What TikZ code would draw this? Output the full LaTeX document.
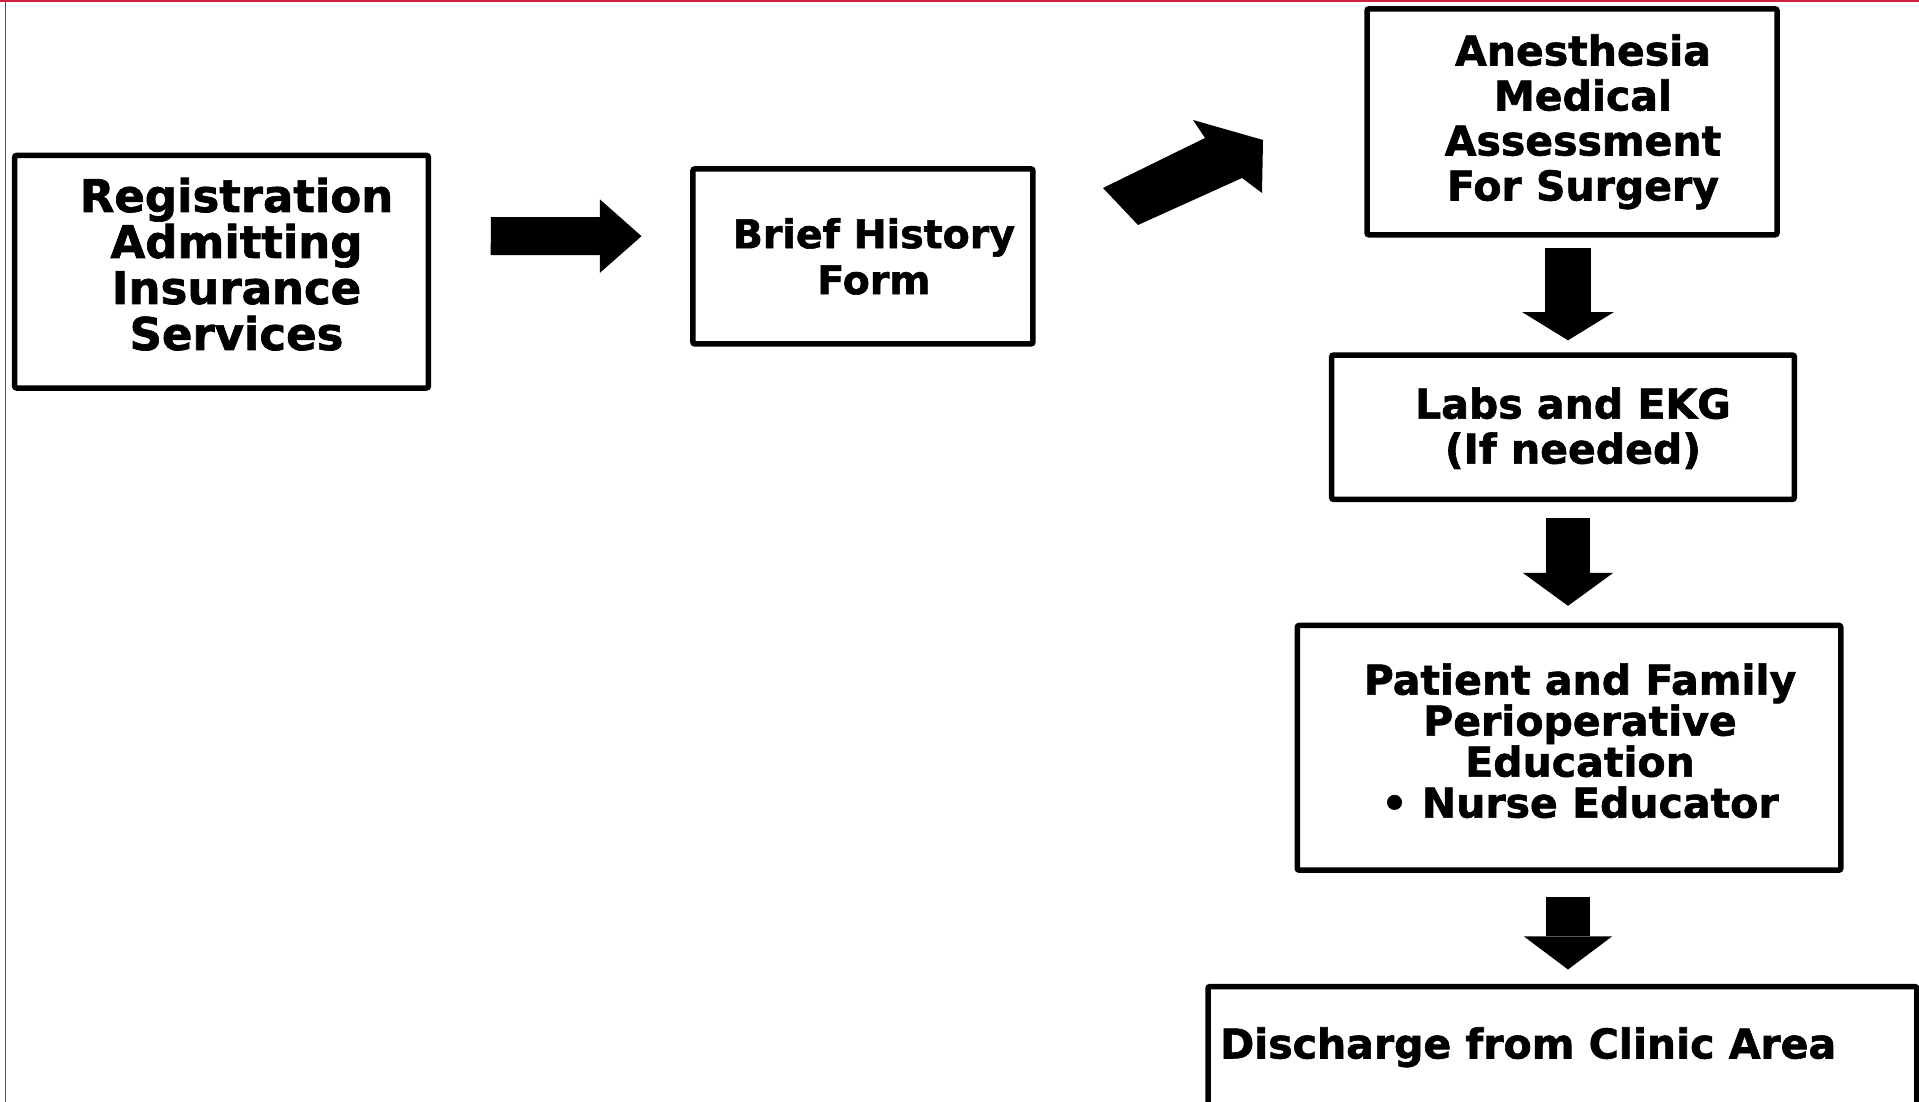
\documentclass[tikz,border=0pt]{standalone}
\usepackage{fontspec}
\usepackage{tikz}
\usetikzlibrary{arrows.meta,calc}
\newfontfamily\flowfont{DejaVu Sans}[BoldFeatures={FakeBold=1.5}]
\definecolor{edgered}{RGB}{204,32,64}

\begin{document}
\begin{tikzpicture}[x=1pt,y=-1pt,
    stage/.style={draw, line width=5.5pt, rounded corners=2pt, outer sep=0pt},
    stagetext/.style={align=center, inner sep=0pt,
      font=\flowfont\bfseries\fontsize{41}{45}\selectfont},
    blockarrow/.style={line width=45pt,
      -{Triangle[width=90pt,length=31pt,line width=0pt]}}]
    % page and frame
    \useasboundingbox (0,0) rectangle (1919,1102);
    \fill[white] (0,0) rectangle (1919,1102);
    \draw[edgered, line width=2pt] (0,1) -- (1919,1);
    \draw[edgered, line width=1.2pt] (5.5,0) -- (5.5,1102);

    % stages
    \node[stage, minimum width=413.7pt, minimum height=232.6pt] (reg) at (221.5,271.7) {};
    \node[stagetext, font=\flowfont\bfseries\fontsize{45}{46}\selectfont] (regtext)
      at ($(reg)+(15,-7.5)$) {Registration\\ Admitting\\ Insurance\\ Services};
    \node[stage, minimum width=340pt, minimum height=175pt] (brief) at (862.9,256.4) {};
    \node[stagetext, font=\flowfont\bfseries\fontsize{39.5}{46}\selectfont] (brieftext)
      at ($(brief)+(11,0)$) {Brief History\\ Form};
    \node[stage, minimum width=410pt, minimum height=226pt] (anes) at (1572,121.8) {};
    \node[stagetext] (anestext) at ($(anes)+(11,0)$)
      {Anesthesia\\ Medical\\ Assessment\\ For Surgery};
    \node[stage, minimum width=462.7pt, minimum height=144.4pt] (labs) at (1563,427.2) {};
    \node[stagetext] (labstext) at ($(labs)+(10,1)$) {Labs and EKG\\ (If needed)};
    \node[stage, minimum width=543.5pt, minimum height=244.8pt] (edu) at (1569,747.8) {};
    \node[stagetext, font=\flowfont\bfseries\fontsize{41}{41}\selectfont] (edutext)
      at ($(edu)+(11,-7)$)
      {Patient and Family\\ Perioperative\\ Education\\ • Nurse Educator};
    \node[stage, minimum width=708.8pt, minimum height=121.5pt] (out) at (1562.4,1047.3) {};
    \node[stagetext, anchor=west] (outtext) at ($(out.west)+(12,0)$)
      {Discharge from Clinic Area};

    % flow arrows
    \draw[blockarrow, line width=38pt,
      -{Triangle[width=73.4pt,length=41.6pt,line width=0pt]},
      shorten <=62.4pt, shorten >=51.4pt]
      ($(reg.east)+(0,-35.7)$) -- ($(brief.west)+(0,-20.2)$);
    \fill (1103,188) -- (1205,138) -- (1193,120) -- (1263,140)
      -- (1262,193) -- (1242,178) -- (1138,225) -- cycle;
    \coordinate (col) at (1568,0);
    \draw[blockarrow, line width=46.5pt,
      -{Triangle[width=92pt,length=28.3pt,line width=0pt]},
      shorten <=13.5pt, shorten >=14.7pt] (col |- anes.south) -- (col |- labs.north);
    \draw[blockarrow, line width=44pt,
      -{Triangle[width=90.6pt,length=33pt,line width=0pt]},
      shorten <=18.3pt, shorten >=19.6pt] (col |- labs.south) -- (col |- edu.north);
    \draw[blockarrow, line width=44pt,
      -{Triangle[width=88pt,length=33pt,line width=0pt]},
      shorten <=27pt, shorten >=17.1pt] (col |- edu.south) -- (col |- out.north);
\end{tikzpicture}
\end{document}
